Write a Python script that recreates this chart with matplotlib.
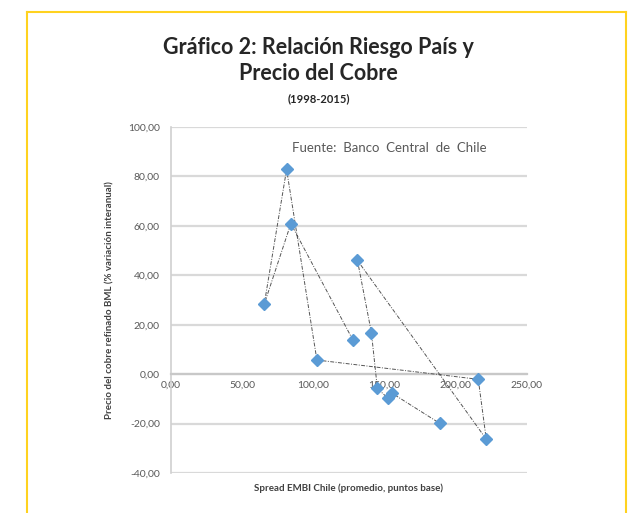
import matplotlib.pyplot as plt
from matplotlib.lines import Line2D

# spread EMBI Chile (pb) vs. variación anual del precio del cobre BML (%), 2003-2015
years = [2003, 2004, 2005, 2006, 2007, 2008, 2009, 2010, 2011, 2012, 2013, 2014, 2015]
spread = [127.9, 84.2, 65.5, 81.2, 102.5, 215.9, 221.5, 131.0, 140.8, 145.0, 152.5, 155.5, 188.8]
cobre = [13.7, 60.9, 28.3, 82.8, 5.7, -2.1, -26.3, 46.0, 16.8, -5.8, -9.8, -7.8, -19.9]

x_ticks = [0, 50, 100, 150, 200, 250]
y_ticks = [-40, -20, 0, 20, 40, 60, 80, 100]

plt.rcParams['font.family'] = ['Lato', 'DejaVu Sans']

fig = plt.figure(figsize=(6.37, 5.13), dpi=100)
ax = fig.add_axes([0.2685, 0.078, 0.5585, 0.6745])

ax.plot(spread, cobre, linestyle=(0, (4, 1.5, 1, 1.5)), color='#555555', lw=0.7,
        marker='D', markersize=6.5, markerfacecolor='#5B9BD5', markeredgecolor='#5B9BD5',
        zorder=3)

ax.set_xlim(0, 250)
ax.set_ylim(-40, 100)
ax.set_xticks(x_ticks)
ax.set_yticks(y_ticks)
fmt = lambda v: f"{v:.2f}".replace('.', ',')
ax.set_xticklabels([fmt(v) for v in x_ticks])
ax.set_yticklabels([fmt(v) for v in y_ticks])

ax.grid(axis='y', color='#D9D9D9', lw=1.6)
ax.set_axisbelow(True)
for s in ['top', 'right']:
    ax.spines[s].set_visible(False)
ax.spines['bottom'].set_position(('data', 0))
ax.spines['bottom'].set_color('#C8C8C8')
ax.spines['bottom'].set_linewidth(1.6)
ax.spines['left'].set_color('#D0D0D0')
ax.spines['left'].set_linewidth(1.2)
ax.tick_params(axis='both', length=0, labelsize=7.5, labelcolor='#595959')
ax.tick_params(axis='x', pad=5)
ax.tick_params(axis='y', pad=8)

ax.set_ylabel('Precio del cobre refinado BML (% variación interanual)',
              fontsize=7, fontweight='bold', color='#404040', labelpad=10)
ax.text(125, -46, 'Spread EMBI Chile (promedio, puntos base)', ha='center', va='center',
        fontsize=7, fontweight='bold', color='#404040')

ax.text(85, 91.3, 'Fuente:  Banco  Central  de  Chile', ha='left', va='center',
        fontsize=9.5, color='#595959')

fig.text(0.5, 0.908, 'Gráfico 2: Relación Riesgo País y', ha='center', va='center',
         fontsize=15.5, fontweight='bold', color='#262626')
fig.text(0.5, 0.857, 'Precio del Cobre', ha='center', va='center',
         fontsize=15.5, fontweight='bold', color='#262626')
fig.text(0.5, 0.808, '(1998-2015)', ha='center', va='center',
         fontsize=8, fontweight='bold', color='#262626')

# marco amarillo
W, H = 637, 513
frame = dict(color='#FFD21F', lw=1.5, transform=fig.transFigure)
fig.add_artist(Line2D([27 / W, 626 / W], [1 - 12 / H, 1 - 12 / H], **frame))
fig.add_artist(Line2D([27 / W, 27 / W], [1 - 12 / H, 0], **frame))
fig.add_artist(Line2D([626 / W, 626 / W], [1 - 12 / H, 0], **frame))

fig.savefig('out.png', dpi=100)
